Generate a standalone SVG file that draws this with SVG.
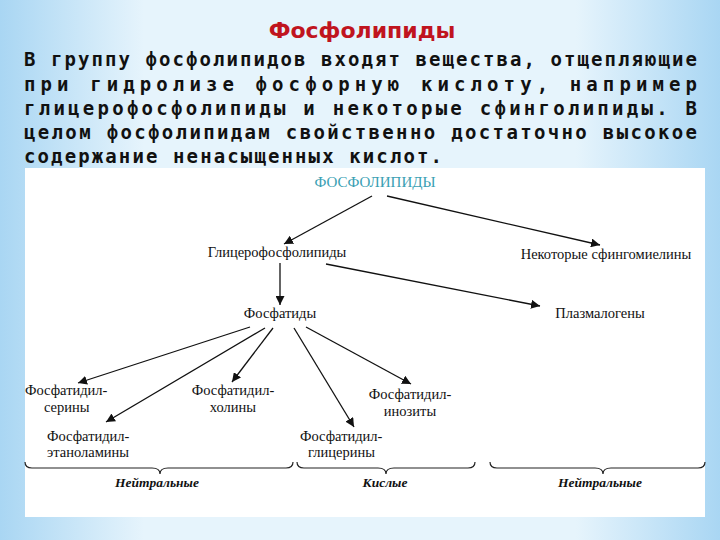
<svg xmlns="http://www.w3.org/2000/svg" width="720" height="540" viewBox="0 0 720 540">
<defs>
<linearGradient id="bg" x1="0" y1="0" x2="1" y2="0">
<stop offset="0" stop-color="#a9d6f3"/><stop offset="0.2" stop-color="#e6f4fc"/><stop offset="0.8" stop-color="#e6f4fc"/><stop offset="1" stop-color="#a9d6f3"/>
</linearGradient>
<marker id="ah" viewBox="0 0 10 10" refX="10" refY="5" markerWidth="9" markerHeight="9" orient="auto" markerUnits="userSpaceOnUse"><path d="M0,0 L10,5 L0,10 Z" fill="#111"/></marker>
<style>
.p{font-family:"DejaVu Sans Mono","Liberation Mono",monospace;font-weight:bold;font-size:19px;fill:#111}
.n{font-family:"Liberation Serif",serif;font-size:14.5px;fill:#111}
.i{font-family:"Liberation Serif",serif;font-size:13.5px;font-style:italic;font-weight:bold;fill:#111}
.c line{stroke:#111;stroke-width:1.3;marker-end:url(#ah)}
.b{fill:none;stroke:#222;stroke-width:1.2}
</style>
</defs>
<rect width="720" height="540" fill="url(#bg)"/>
<text x="362" y="38" text-anchor="middle" style="font-family:'DejaVu Sans','Liberation Sans',sans-serif;font-weight:bold;font-size:22px;fill:#c0141e">Фосфолипиды</text>
<text class="p" x="24" y="66" textLength="673" lengthAdjust="spacing">В группу фосфолипидов входят вещества, отщепляющие</text>
<text class="p" x="24" y="91" textLength="673" lengthAdjust="spacing">при  гидролизе  фосфорную  кислоту,  например</text>
<text class="p" x="24" y="115" textLength="673" lengthAdjust="spacing">глицерофосфолипиды и некоторые сфинголипиды. В</text>
<text class="p" x="24" y="139" textLength="673" lengthAdjust="spacing">целом фосфолипидам свойственно достаточно высокое</text>
<text class="p" x="24" y="163" textLength="418" lengthAdjust="spacing">содержание ненасыщенных кислот.</text>
<rect x="25" y="168" width="680" height="349" fill="#fff"/>
<g id="root"><text class="n" x="375" y="187" text-anchor="middle" style="fill:#3a9fb3;font-size:15px">ФОСФОЛИПИДЫ</text></g>
<g id="glycero"><text class="n" x="277" y="257" text-anchor="middle">Глицерофосфолипиды</text></g>
<g id="sphingo"><text class="n" x="606" y="259" text-anchor="middle">Некоторые сфингомиелины</text></g>
<g id="phosphatides"><text class="n" x="280" y="318" text-anchor="middle">Фосфатиды</text></g>
<g id="plasmalogens"><text class="n" x="600" y="318" text-anchor="middle">Плазмалогены</text></g>
<g id="serine"><text class="n" x="25" y="395">Фосфатидил-</text><text class="n" x="44" y="412">серины</text></g>
<g id="choline"><text class="n" x="233" y="395" text-anchor="middle">Фосфатидил-</text><text class="n" x="233" y="412" text-anchor="middle">холины</text></g>
<g id="inositol"><text class="n" x="410" y="399" text-anchor="middle">Фосфатидил-</text><text class="n" x="410" y="416" text-anchor="middle">инозиты</text></g>
<g id="ethanolamine"><text class="n" x="47" y="441">Фосфатидил-</text><text class="n" x="47" y="457">этаноламины</text></g>
<g id="glycerol"><text class="n" x="300" y="441">Фосфатидил-</text><text class="n" x="308" y="457">глицерины</text></g>
<g id="connectors" class="c">
<line x1="372" y1="196" x2="284" y2="244"/>
<line x1="387" y1="196" x2="600" y2="245"/>
<line x1="280" y1="263" x2="280" y2="305"/>
<line x1="326" y1="264" x2="540" y2="306"/>
<line x1="250" y1="327" x2="78" y2="383"/>
<line x1="265" y1="328" x2="106" y2="422"/>
<line x1="273" y1="328" x2="232" y2="382"/>
<line x1="294" y1="328" x2="354" y2="427"/>
<line x1="306" y1="327" x2="411" y2="384"/>
</g>
<g id="braces">
<path class="b" d="M25,462 Q25,468 32,468 L152,468 Q160,468 160,474 Q160,468 168,468 L286,468 Q293,468 293,462"/>
<path class="b" d="M297,462 Q297,468 304,468 L378,468 Q386,468 386,474 Q386,468 394,468 L468,468 Q475,468 475,462"/>
<path class="b" d="M490,462 Q490,468 497,468 L595,468 Q603,468 603,474 Q603,468 611,468 L698,468 Q705,468 705,462"/>
<text class="i" x="157" y="487" text-anchor="middle">Нейтральные</text>
<text class="i" x="385" y="487" text-anchor="middle">Кислые</text>
<text class="i" x="600" y="487" text-anchor="middle">Нейтральные</text>
</g>
</svg>
